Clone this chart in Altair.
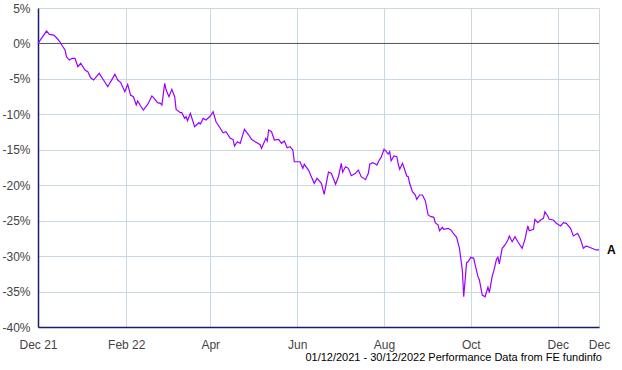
import altair as alt
import pandas as pd

# Day offsets from 01/12/2021 and cumulative performance (%)
days = [0, 6, 8, 11, 13, 15, 17, 19, 20, 22, 24, 26, 28, 30, 33, 35, 37, 39, 43, 46,
        49, 54, 56, 58, 61, 63, 65, 67, 69, 70, 72, 74, 77, 80, 81, 84, 86, 87, 89, 90,
        92, 94, 96, 97, 100, 101, 103, 104, 105, 107, 110, 113, 114, 116, 118, 121, 123, 125, 127, 130,
        132, 135, 137, 138, 140, 142, 145, 148, 150, 152, 156, 157, 160, 161, 162, 164, 166, 169, 171, 173,
        175, 177, 179, 180, 184, 186, 187, 190, 192, 194, 196, 199, 201, 204, 206, 209, 211, 213, 214, 216,
        218, 220, 223, 225, 227, 230, 232, 233, 235, 237, 238, 240, 241, 243, 244, 246, 247, 248, 250, 252,
        253, 254, 256, 258, 259, 260, 261, 263, 265, 266, 268, 270, 272, 274, 276, 278, 279, 281, 282, 284,
        285, 288, 290, 292, 294, 296, 298, 299, 301, 302, 304, 306, 307, 309, 310, 312, 314, 316, 317, 319,
        320, 322, 323, 324, 326, 328, 330, 331, 333, 335, 337, 340, 342, 344, 345, 348, 349, 351, 353, 355,
        356, 358, 359, 362, 364, 367, 369, 371, 374, 376, 379, 381, 383, 385, 389, 392, 394]

returns = [0, 1.75, 1.28, 1.18, 0.8, 0.34, -0.32, -0.93, -1.87, -2.34, -2.1, -2.1, -3.28, -2.8, -3.75, -3.99, -4.84, -5.16, -4.22, -5.16,
           -6.1, -4.36, -5.16, -5.49, -6.8, -5.77, -7.28, -7.52, -8.69, -8.12, -8.79, -9.39, -8.6, -7.42, -7.6, -8.36, -8.45, -8.69, -5.63, -6.57,
           -7.52, -6.47, -7.52, -9.3, -9.77, -9.77, -10.57, -10.34, -10.9, -9.86, -11.75, -11.18, -11.37, -10.57, -10.8, -10.24, -9.63, -11.04, -11.65, -12.6,
           -12.45, -13.38, -13.53, -14.47, -13.86, -14.09, -12.12, -12.92, -13.53, -13.8, -14.28, -14.8, -13.38, -13.77, -12.21, -12.45, -13.62, -13.53, -14.09, -13.77,
           -14.71, -14.57, -15.03, -16.69, -16.69, -17.62, -17.05, -17.86, -18.8, -19.73, -19.03, -19.73, -21.28, -18.16, -18.32, -19.87, -18.8, -16.91, -18.16, -17.39,
           -17.62, -18.66, -18.32, -17.86, -18.8, -19.22, -18.32, -17.03, -16.83, -17.01, -17.15, -16.35, -16.07, -14.94, -15.13, -15.6, -15.27, -16.54, -15.88, -15.98,
           -17.01, -17.76, -16.91, -18.1, -18.7, -18.8, -19.73, -20.92, -21.38, -21.99, -21.38, -21.38, -22.19, -24.2, -24.44, -24.53, -25.29, -25.61, -26.42, -25.94,
           -26.22, -26.08, -26.32, -26.88, -27.35, -28.9, -31.96, -35.73, -30.93, -30.79, -30.17, -30.31, -31.2, -32.9, -33.37, -35.49, -35.73, -34.4, -35.16, -32.81,
           -32.2, -30.45, -30.17, -31.11, -28.9, -28.43, -27.73, -27.16, -27.97, -27.26, -27.97, -28.9, -27.63, -25.75, -26.42, -26.22, -24.81, -25.29, -24.91, -24.67,
           -23.74, -24.34, -24.81, -24.91, -25.37, -25.75, -25.29, -25.37, -26.08, -27.16, -26.79, -27.63, -28.9, -28.57, -28.9, -29.13, -29.13]

assert len(days) == len(returns)

series_name = "A"
start_date = "2021-12-01"
end_date = "2022-12-30"
tick_dates = ["2021-12-01", "2022-02-01", "2022-04-01", "2022-06-01",
              "2022-08-01", "2022-10-01", "2022-12-01", "2022-12-30"]
tick_labels = ["Dec 21", "Feb 22", "Apr", "Jun", "Aug", "Oct", "Dec", "Dec"]
y_ticks = [5, 0, -5, -10, -15, -20, -25, -30, -35, -40]
footer = "01/12/2021 - 30/12/2022 Performance Data from FE fundinfo"

base_ts = pd.Timestamp(start_date)
df = pd.DataFrame({
    "date": [base_ts + pd.Timedelta(days=d) for d in days],
    "ret": returns,
})
last = df.iloc[[-1]].assign(name=series_name)
zero_df = pd.DataFrame({"ret": [0]})


def dt(s):
    t = pd.Timestamp(s)
    return alt.DateTime(year=t.year, month=t.month, date=t.day)


label_expr = "''"
for d, lab in reversed(list(zip(tick_dates, tick_labels))):
    label_expr = f"timeFormat(datum.value, '%Y-%m-%d') == '{d}' ? '{lab}' : ({label_expr})"

FONT = "Liberation Sans"
GRID = "#c9d9e3"
AXIS = "#1c1c6c"

x_enc = alt.X(
    "date:T",
    scale=alt.Scale(domain=[dt(start_date), dt(end_date)], nice=False),
    axis=alt.Axis(
        values=[dt(d) for d in tick_dates],
        labelExpr=label_expr,
        title=None,
        grid=True,
        gridColor=GRID,
        gridWidth=1,
        domainColor=AXIS,
        domainWidth=1.5,
        ticks=False,
        labelPadding=12,
        labelFont=FONT,
        labelFontSize=12,
        labelColor="#444444",
        labelOverlap=False,
        labelFlush=False,
    ),
)
y_enc = alt.Y(
    "ret:Q",
    scale=alt.Scale(domain=[-40, 5], nice=False),
    axis=alt.Axis(
        values=y_ticks,
        labelExpr="datum.value + '%'",
        title=None,
        grid=True,
        gridColor=GRID,
        gridWidth=1,
        domainColor=AXIS,
        domainWidth=1.5,
        ticks=False,
        labelPadding=8,
        labelFont=FONT,
        labelFontSize=12,
        labelColor="#444444",
        labelOverlap=False,
        labelFlush=False,
    ),
)

zero = alt.Chart(zero_df).mark_rule(color="#555555", strokeWidth=1).encode(y=y_enc)

line = alt.Chart(df).mark_line(color="#9a00ff", strokeWidth=1.2).encode(x=x_enc, y=y_enc)

lab = alt.Chart(last).mark_text(
    align="left", baseline="middle", dx=8, fontWeight="bold", fontSize=12, font=FONT, color="black"
).encode(x=x_enc, y=y_enc, text="name:N")

foot = alt.Chart(pd.DataFrame({"t": [footer]})).mark_text(
    align="right", baseline="alphabetic", fontSize=11, font=FONT, color="black"
).encode(x=alt.value(564), y=alt.value(353), text="t:N")

chart = alt.layer(zero, line, lab, foot).properties(
    width=561, height=319,
    autosize=alt.AutoSizeParams(type="none"),
    padding={"left": 38, "top": 8, "right": 23, "bottom": 43},
).configure_view(stroke=None).configure(background="white")

chart.save("out.html", embed_options={"renderer": "svg", "actions": False})
